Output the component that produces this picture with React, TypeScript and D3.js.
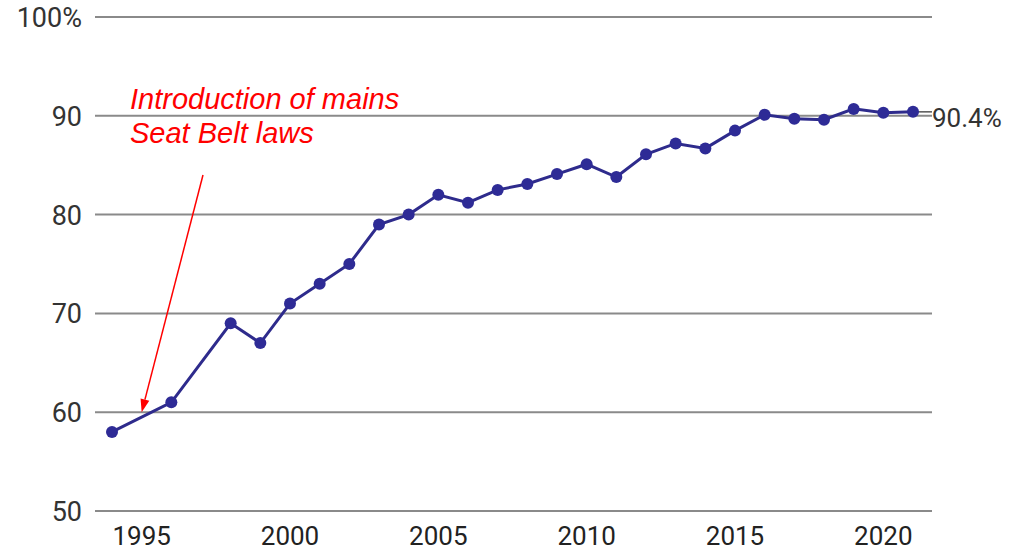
import React from "react";
import * as d3 from "d3";

const years = [1994, 1996, 1998, 1999, 2000, 2001, 2002, 2003, 2004, 2005, 2006, 2007, 2008, 2009, 2010, 2011, 2012, 2013, 2014, 2015, 2016, 2017, 2018, 2019, 2020, 2021];
const rates = [58, 61, 69, 67, 71, 73, 75, 79, 80, 82, 81.2, 82.5, 83.1, 84.1, 85.1, 83.8, 86.1, 87.2, 86.7, 88.5, 90.1, 89.7, 89.6, 90.7, 90.3, 90.4];
const yTicks = [50, 60, 70, 80, 90, 100];
const xTicks = [1995, 2000, 2005, 2010, 2015, 2020];
const annotationLines = ["Introduction of mains", "Seat Belt laws"];
const annotationYear = 1995;
const annotationValue = 60;
const endLabel = "90.4%";

export default function App() {
  const W = 1023, H = 550;
  const x = d3.scaleLinear().domain([1994, 2021]).range([112, 913]);
  const y = d3.scaleLinear().domain([50, 100]).range([511, 17]);
  const line = d3.line<number>().x((_, i) => x(years[i])).y((d) => y(d));
  const font = "Roboto, 'Noto Sans', sans-serif";
  const ax = x(annotationYear), ay = y(annotationValue);
  const sx = 203, sy = 175;
  const ang = Math.atan2(ay - sy, ax - sx);
  const hl = 13, hw = 4.5;
  const bx = ax - hl * Math.cos(ang), by = ay - hl * Math.sin(ang);
  const px = -Math.sin(ang) * hw, py = Math.cos(ang) * hw;
  const lastX = x(years[years.length - 1]);
  const lastY = y(rates[rates.length - 1]);
  return (
    <svg width={W} height={H} style={{ position: "absolute", left: 0, top: 0, background: "#fff" }}>
      {yTicks.map((t) => (
        <g key={t}>
          <line x1={95} x2={932} y1={y(t)} y2={y(t)} stroke="#8a8a8a" strokeWidth={2} />
          <text x={82} y={y(t) + 10} textAnchor="end" fontFamily={font} fontSize={27} fill="#333">
            {t === 100 ? "100%" : t}
          </text>
        </g>
      ))}
      {xTicks.map((t) => (
        <text key={t} x={x(t)} y={545} textAnchor="middle" fontFamily={font} fontSize={26} fill="#222">
          {t}
        </text>
      ))}
      <line x1={lastX} x2={932} y1={lastY} y2={lastY} stroke="#555" strokeWidth={1.5} />
      <path d={line(rates) || ""} fill="none" stroke="#2e2b8c" strokeWidth={3} />
      {rates.map((v, i) => (
        <circle key={years[i]} cx={x(years[i])} cy={y(v)} r={6} fill="#2e2b96" />
      ))}
      <text x={932} y={127} fontFamily={font} fontSize={26} fill="#333">{endLabel}</text>
      {annotationLines.map((s, i) => (
        <text key={s} x={130} y={109 + i * 34} fontFamily="'Liberation Sans', Arial, sans-serif" fontStyle="italic" fontSize={29} fill="#ff0000">
          {s}
        </text>
      ))}
      <line x1={sx} y1={sy} x2={bx} y2={by} stroke="#ff0000" strokeWidth={1.5} />
      <path d={`M${ax},${ay}L${bx + px},${by + py}L${bx - px},${by - py}Z`} fill="#ff0000" />
    </svg>
  );
}
